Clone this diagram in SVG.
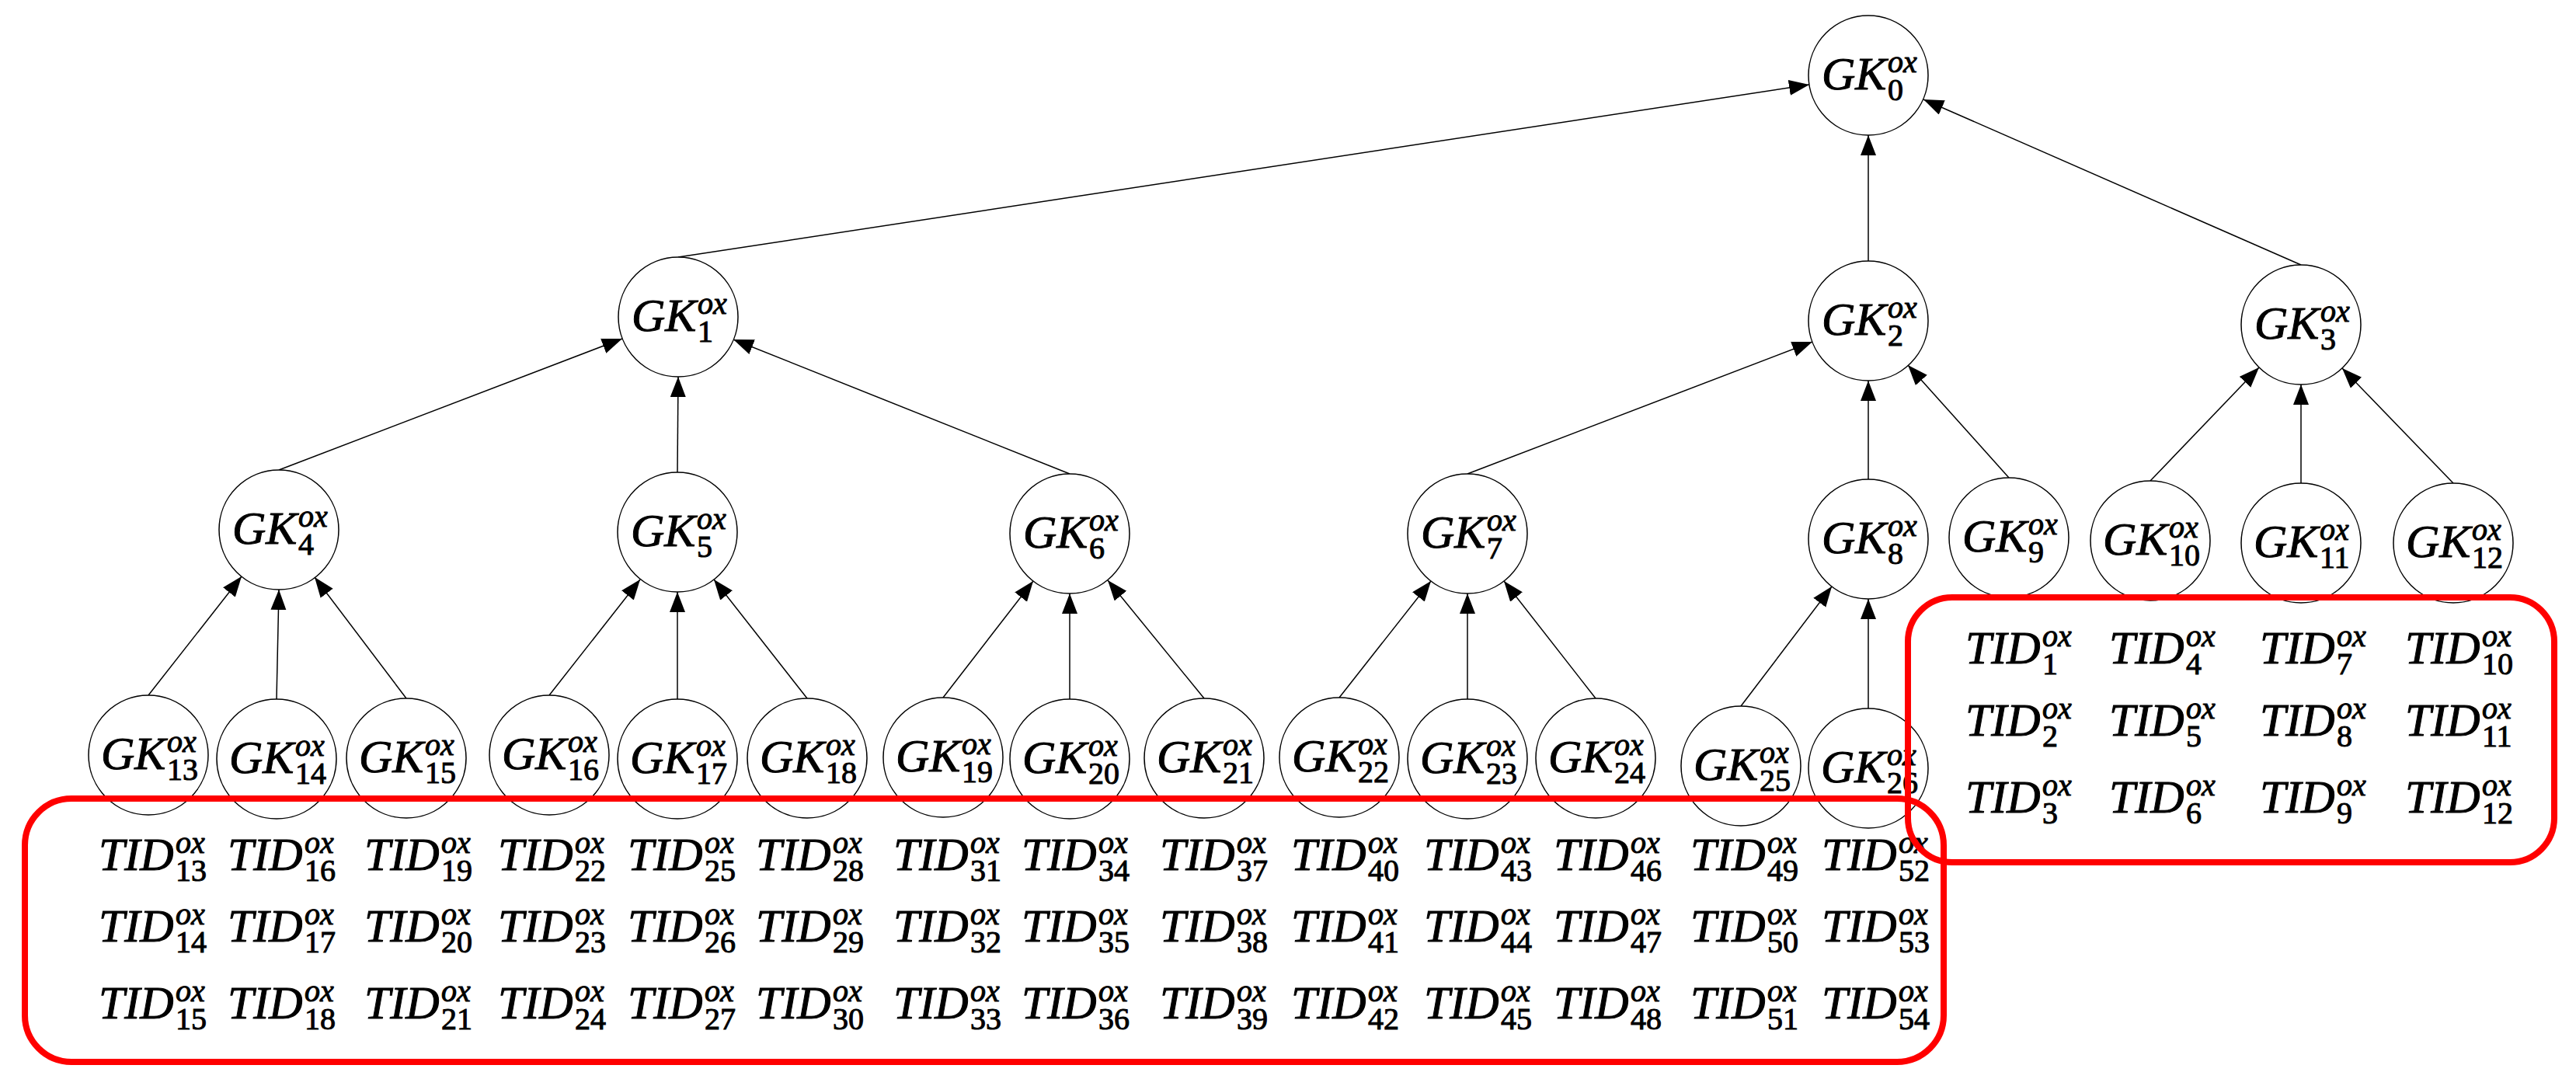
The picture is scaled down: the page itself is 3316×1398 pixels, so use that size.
<svg xmlns="http://www.w3.org/2000/svg" width="3316" height="1398" viewBox="0 0 3316 1398">
<style>
.n{fill:#fff;stroke:#000;stroke-width:1.5}
.e{stroke:#000;stroke-width:1.5;fill:none;marker-end:url(#a)}
.m{font-family:"Liberation Serif",serif;font-style:italic;font-size:60px;stroke:#000;stroke-width:1}
.s{font-style:italic;font-size:40px}
.d{font-style:normal;font-size:40px}
.b{fill:none;stroke:#f00;stroke-width:8}
</style>
<defs><marker id="a" markerUnits="userSpaceOnUse" markerWidth="30" markerHeight="24" refX="26" refY="10" orient="auto"><path d="M0,0 L26,10 L0,20 z" fill="#000"/></marker></defs>
<g id="edges">
<line class="e" x1="873" y1="331" x2="2329" y2="109"/>
<line class="e" x1="2405" y1="336" x2="2405" y2="174"/>
<line class="e" x1="2962" y1="341" x2="2476" y2="128"/>
<line class="e" x1="359" y1="605" x2="801" y2="436"/>
<line class="e" x1="872" y1="608" x2="873" y2="485"/>
<line class="e" x1="1377" y1="610" x2="944" y2="437"/>
<line class="e" x1="1889" y1="610" x2="2333" y2="440"/>
<line class="e" x1="2405" y1="617" x2="2405" y2="490"/>
<line class="e" x1="2586" y1="615" x2="2456" y2="470"/>
<line class="e" x1="2768" y1="619" x2="2908" y2="473"/>
<line class="e" x1="2962" y1="622" x2="2962" y2="495"/>
<line class="e" x1="3158" y1="622" x2="3015" y2="474"/>
<line class="e" x1="191" y1="895" x2="311" y2="742"/>
<line class="e" x1="356" y1="900" x2="359" y2="759"/>
<line class="e" x1="523" y1="899" x2="405" y2="743"/>
<line class="e" x1="707" y1="895" x2="824" y2="746"/>
<line class="e" x1="872" y1="900" x2="872" y2="762"/>
<line class="e" x1="1039" y1="899" x2="919" y2="746"/>
<line class="e" x1="1214" y1="898" x2="1330" y2="748"/>
<line class="e" x1="1377" y1="900" x2="1377" y2="764"/>
<line class="e" x1="1550" y1="899" x2="1426" y2="747"/>
<line class="e" x1="1724" y1="898" x2="1842" y2="748"/>
<line class="e" x1="1889" y1="900" x2="1889" y2="764"/>
<line class="e" x1="2054" y1="899" x2="1936" y2="748"/>
<line class="e" x1="2241" y1="909" x2="2358" y2="755"/>
<line class="e" x1="2405" y1="912" x2="2405" y2="771"/>
</g>
<g id="gk0"><circle class="n" cx="2405" cy="97" r="77"/><text class="m" x="2345" y="115">GK<tspan class="s" x="2430" y="93">ox</tspan><tspan class="d" x="2430" y="129">0</tspan></text></g>
<g id="gk1"><circle class="n" cx="873" cy="408" r="77"/><text class="m" x="813" y="426">GK<tspan class="s" x="898" y="404">ox</tspan><tspan class="d" x="898" y="440">1</tspan></text></g>
<g id="gk2"><circle class="n" cx="2405" cy="413" r="77"/><text class="m" x="2345" y="431">GK<tspan class="s" x="2430" y="409">ox</tspan><tspan class="d" x="2430" y="445">2</tspan></text></g>
<g id="gk3"><circle class="n" cx="2962" cy="418" r="77"/><text class="m" x="2902" y="436">GK<tspan class="s" x="2987" y="414">ox</tspan><tspan class="d" x="2987" y="450">3</tspan></text></g>
<g id="gk4"><circle class="n" cx="359" cy="682" r="77"/><text class="m" x="299" y="700">GK<tspan class="s" x="384" y="678">ox</tspan><tspan class="d" x="384" y="714">4</tspan></text></g>
<g id="gk5"><circle class="n" cx="872" cy="685" r="77"/><text class="m" x="812" y="703">GK<tspan class="s" x="897" y="681">ox</tspan><tspan class="d" x="897" y="717">5</tspan></text></g>
<g id="gk6"><circle class="n" cx="1377" cy="687" r="77"/><text class="m" x="1317" y="705">GK<tspan class="s" x="1402" y="683">ox</tspan><tspan class="d" x="1402" y="719">6</tspan></text></g>
<g id="gk7"><circle class="n" cx="1889" cy="687" r="77"/><text class="m" x="1829" y="705">GK<tspan class="s" x="1914" y="683">ox</tspan><tspan class="d" x="1914" y="719">7</tspan></text></g>
<g id="gk8"><circle class="n" cx="2405" cy="694" r="77"/><text class="m" x="2345" y="712">GK<tspan class="s" x="2430" y="690">ox</tspan><tspan class="d" x="2430" y="726">8</tspan></text></g>
<g id="gk9"><circle class="n" cx="2586" cy="692" r="77"/><text class="m" x="2526" y="710">GK<tspan class="s" x="2611" y="688">ox</tspan><tspan class="d" x="2611" y="724">9</tspan></text></g>
<g id="gk10"><circle class="n" cx="2768" cy="696" r="77"/><text class="m" x="2707" y="714">GK<tspan class="s" x="2792" y="692">ox</tspan><tspan class="d" x="2792" y="728">10</tspan></text></g>
<g id="gk11"><circle class="n" cx="2962" cy="699" r="77"/><text class="m" x="2901" y="717">GK<tspan class="s" x="2986" y="695">ox</tspan><tspan class="d" x="2986" y="731">11</tspan></text></g>
<g id="gk12"><circle class="n" cx="3158" cy="699" r="77"/><text class="m" x="3097" y="717">GK<tspan class="s" x="3182" y="695">ox</tspan><tspan class="d" x="3182" y="731">12</tspan></text></g>
<g id="gk13"><circle class="n" cx="191" cy="972" r="77"/><text class="m" x="130" y="990">GK<tspan class="s" x="215" y="968">ox</tspan><tspan class="d" x="215" y="1004">13</tspan></text></g>
<g id="gk14"><circle class="n" cx="356" cy="977" r="77"/><text class="m" x="295" y="995">GK<tspan class="s" x="380" y="973">ox</tspan><tspan class="d" x="380" y="1009">14</tspan></text></g>
<g id="gk15"><circle class="n" cx="523" cy="976" r="77"/><text class="m" x="462" y="994">GK<tspan class="s" x="547" y="972">ox</tspan><tspan class="d" x="547" y="1008">15</tspan></text></g>
<g id="gk16"><circle class="n" cx="707" cy="972" r="77"/><text class="m" x="646" y="990">GK<tspan class="s" x="731" y="968">ox</tspan><tspan class="d" x="731" y="1004">16</tspan></text></g>
<g id="gk17"><circle class="n" cx="872" cy="977" r="77"/><text class="m" x="811" y="995">GK<tspan class="s" x="896" y="973">ox</tspan><tspan class="d" x="896" y="1009">17</tspan></text></g>
<g id="gk18"><circle class="n" cx="1039" cy="976" r="77"/><text class="m" x="978" y="994">GK<tspan class="s" x="1063" y="972">ox</tspan><tspan class="d" x="1063" y="1008">18</tspan></text></g>
<g id="gk19"><circle class="n" cx="1214" cy="975" r="77"/><text class="m" x="1153" y="993">GK<tspan class="s" x="1238" y="971">ox</tspan><tspan class="d" x="1238" y="1007">19</tspan></text></g>
<g id="gk20"><circle class="n" cx="1377" cy="977" r="77"/><text class="m" x="1316" y="995">GK<tspan class="s" x="1401" y="973">ox</tspan><tspan class="d" x="1401" y="1009">20</tspan></text></g>
<g id="gk21"><circle class="n" cx="1550" cy="976" r="77"/><text class="m" x="1489" y="994">GK<tspan class="s" x="1574" y="972">ox</tspan><tspan class="d" x="1574" y="1008">21</tspan></text></g>
<g id="gk22"><circle class="n" cx="1724" cy="975" r="77"/><text class="m" x="1663" y="993">GK<tspan class="s" x="1748" y="971">ox</tspan><tspan class="d" x="1748" y="1007">22</tspan></text></g>
<g id="gk23"><circle class="n" cx="1889" cy="977" r="77"/><text class="m" x="1828" y="995">GK<tspan class="s" x="1913" y="973">ox</tspan><tspan class="d" x="1913" y="1009">23</tspan></text></g>
<g id="gk24"><circle class="n" cx="2054" cy="976" r="77"/><text class="m" x="1993" y="994">GK<tspan class="s" x="2078" y="972">ox</tspan><tspan class="d" x="2078" y="1008">24</tspan></text></g>
<g id="gk25"><circle class="n" cx="2241" cy="986" r="77"/><text class="m" x="2180" y="1004">GK<tspan class="s" x="2265" y="982">ox</tspan><tspan class="d" x="2265" y="1018">25</tspan></text></g>
<g id="gk26"><circle class="n" cx="2405" cy="989" r="77"/><text class="m" x="2344" y="1007">GK<tspan class="s" x="2429" y="985">ox</tspan><tspan class="d" x="2429" y="1021">26</tspan></text></g>
<g id="box-left">
<rect class="b" x="32" y="1028" width="2470" height="339" rx="60"/>
<text class="m" x="127" y="1120">TID<tspan class="s" x="226" y="1098">ox</tspan><tspan class="d" x="226" y="1134">13</tspan></text>
<text class="m" x="293" y="1120">TID<tspan class="s" x="392" y="1098">ox</tspan><tspan class="d" x="392" y="1134">16</tspan></text>
<text class="m" x="469" y="1120">TID<tspan class="s" x="568" y="1098">ox</tspan><tspan class="d" x="568" y="1134">19</tspan></text>
<text class="m" x="641" y="1120">TID<tspan class="s" x="740" y="1098">ox</tspan><tspan class="d" x="740" y="1134">22</tspan></text>
<text class="m" x="808" y="1120">TID<tspan class="s" x="907" y="1098">ox</tspan><tspan class="d" x="907" y="1134">25</tspan></text>
<text class="m" x="973" y="1120">TID<tspan class="s" x="1072" y="1098">ox</tspan><tspan class="d" x="1072" y="1134">28</tspan></text>
<text class="m" x="1150" y="1120">TID<tspan class="s" x="1249" y="1098">ox</tspan><tspan class="d" x="1249" y="1134">31</tspan></text>
<text class="m" x="1315" y="1120">TID<tspan class="s" x="1414" y="1098">ox</tspan><tspan class="d" x="1414" y="1134">34</tspan></text>
<text class="m" x="1493" y="1120">TID<tspan class="s" x="1592" y="1098">ox</tspan><tspan class="d" x="1592" y="1134">37</tspan></text>
<text class="m" x="1662" y="1120">TID<tspan class="s" x="1761" y="1098">ox</tspan><tspan class="d" x="1761" y="1134">40</tspan></text>
<text class="m" x="1833" y="1120">TID<tspan class="s" x="1932" y="1098">ox</tspan><tspan class="d" x="1932" y="1134">43</tspan></text>
<text class="m" x="2000" y="1120">TID<tspan class="s" x="2099" y="1098">ox</tspan><tspan class="d" x="2099" y="1134">46</tspan></text>
<text class="m" x="2176" y="1120">TID<tspan class="s" x="2275" y="1098">ox</tspan><tspan class="d" x="2275" y="1134">49</tspan></text>
<text class="m" x="2345" y="1120">TID<tspan class="s" x="2444" y="1098">ox</tspan><tspan class="d" x="2444" y="1134">52</tspan></text>
<text class="m" x="127" y="1212">TID<tspan class="s" x="226" y="1190">ox</tspan><tspan class="d" x="226" y="1226">14</tspan></text>
<text class="m" x="293" y="1212">TID<tspan class="s" x="392" y="1190">ox</tspan><tspan class="d" x="392" y="1226">17</tspan></text>
<text class="m" x="469" y="1212">TID<tspan class="s" x="568" y="1190">ox</tspan><tspan class="d" x="568" y="1226">20</tspan></text>
<text class="m" x="641" y="1212">TID<tspan class="s" x="740" y="1190">ox</tspan><tspan class="d" x="740" y="1226">23</tspan></text>
<text class="m" x="808" y="1212">TID<tspan class="s" x="907" y="1190">ox</tspan><tspan class="d" x="907" y="1226">26</tspan></text>
<text class="m" x="973" y="1212">TID<tspan class="s" x="1072" y="1190">ox</tspan><tspan class="d" x="1072" y="1226">29</tspan></text>
<text class="m" x="1150" y="1212">TID<tspan class="s" x="1249" y="1190">ox</tspan><tspan class="d" x="1249" y="1226">32</tspan></text>
<text class="m" x="1315" y="1212">TID<tspan class="s" x="1414" y="1190">ox</tspan><tspan class="d" x="1414" y="1226">35</tspan></text>
<text class="m" x="1493" y="1212">TID<tspan class="s" x="1592" y="1190">ox</tspan><tspan class="d" x="1592" y="1226">38</tspan></text>
<text class="m" x="1662" y="1212">TID<tspan class="s" x="1761" y="1190">ox</tspan><tspan class="d" x="1761" y="1226">41</tspan></text>
<text class="m" x="1833" y="1212">TID<tspan class="s" x="1932" y="1190">ox</tspan><tspan class="d" x="1932" y="1226">44</tspan></text>
<text class="m" x="2000" y="1212">TID<tspan class="s" x="2099" y="1190">ox</tspan><tspan class="d" x="2099" y="1226">47</tspan></text>
<text class="m" x="2176" y="1212">TID<tspan class="s" x="2275" y="1190">ox</tspan><tspan class="d" x="2275" y="1226">50</tspan></text>
<text class="m" x="2345" y="1212">TID<tspan class="s" x="2444" y="1190">ox</tspan><tspan class="d" x="2444" y="1226">53</tspan></text>
<text class="m" x="127" y="1311">TID<tspan class="s" x="226" y="1289">ox</tspan><tspan class="d" x="226" y="1325">15</tspan></text>
<text class="m" x="293" y="1311">TID<tspan class="s" x="392" y="1289">ox</tspan><tspan class="d" x="392" y="1325">18</tspan></text>
<text class="m" x="469" y="1311">TID<tspan class="s" x="568" y="1289">ox</tspan><tspan class="d" x="568" y="1325">21</tspan></text>
<text class="m" x="641" y="1311">TID<tspan class="s" x="740" y="1289">ox</tspan><tspan class="d" x="740" y="1325">24</tspan></text>
<text class="m" x="808" y="1311">TID<tspan class="s" x="907" y="1289">ox</tspan><tspan class="d" x="907" y="1325">27</tspan></text>
<text class="m" x="973" y="1311">TID<tspan class="s" x="1072" y="1289">ox</tspan><tspan class="d" x="1072" y="1325">30</tspan></text>
<text class="m" x="1150" y="1311">TID<tspan class="s" x="1249" y="1289">ox</tspan><tspan class="d" x="1249" y="1325">33</tspan></text>
<text class="m" x="1315" y="1311">TID<tspan class="s" x="1414" y="1289">ox</tspan><tspan class="d" x="1414" y="1325">36</tspan></text>
<text class="m" x="1493" y="1311">TID<tspan class="s" x="1592" y="1289">ox</tspan><tspan class="d" x="1592" y="1325">39</tspan></text>
<text class="m" x="1662" y="1311">TID<tspan class="s" x="1761" y="1289">ox</tspan><tspan class="d" x="1761" y="1325">42</tspan></text>
<text class="m" x="1833" y="1311">TID<tspan class="s" x="1932" y="1289">ox</tspan><tspan class="d" x="1932" y="1325">45</tspan></text>
<text class="m" x="2000" y="1311">TID<tspan class="s" x="2099" y="1289">ox</tspan><tspan class="d" x="2099" y="1325">48</tspan></text>
<text class="m" x="2176" y="1311">TID<tspan class="s" x="2275" y="1289">ox</tspan><tspan class="d" x="2275" y="1325">51</tspan></text>
<text class="m" x="2345" y="1311">TID<tspan class="s" x="2444" y="1289">ox</tspan><tspan class="d" x="2444" y="1325">54</tspan></text>
</g>
<g id="box-right">
<rect class="b" x="2456" y="769" width="832" height="341" rx="57"/>
<text class="m" x="2530" y="854">TID<tspan class="s" x="2629" y="832">ox</tspan><tspan class="d" x="2629" y="868">1</tspan></text>
<text class="m" x="2715" y="854">TID<tspan class="s" x="2814" y="832">ox</tspan><tspan class="d" x="2814" y="868">4</tspan></text>
<text class="m" x="2909" y="854">TID<tspan class="s" x="3008" y="832">ox</tspan><tspan class="d" x="3008" y="868">7</tspan></text>
<text class="m" x="3096" y="854">TID<tspan class="s" x="3195" y="832">ox</tspan><tspan class="d" x="3195" y="868">10</tspan></text>
<text class="m" x="2530" y="947">TID<tspan class="s" x="2629" y="925">ox</tspan><tspan class="d" x="2629" y="961">2</tspan></text>
<text class="m" x="2715" y="947">TID<tspan class="s" x="2814" y="925">ox</tspan><tspan class="d" x="2814" y="961">5</tspan></text>
<text class="m" x="2909" y="947">TID<tspan class="s" x="3008" y="925">ox</tspan><tspan class="d" x="3008" y="961">8</tspan></text>
<text class="m" x="3096" y="947">TID<tspan class="s" x="3195" y="925">ox</tspan><tspan class="d" x="3195" y="961">11</tspan></text>
<text class="m" x="2530" y="1046">TID<tspan class="s" x="2629" y="1024">ox</tspan><tspan class="d" x="2629" y="1060">3</tspan></text>
<text class="m" x="2715" y="1046">TID<tspan class="s" x="2814" y="1024">ox</tspan><tspan class="d" x="2814" y="1060">6</tspan></text>
<text class="m" x="2909" y="1046">TID<tspan class="s" x="3008" y="1024">ox</tspan><tspan class="d" x="3008" y="1060">9</tspan></text>
<text class="m" x="3096" y="1046">TID<tspan class="s" x="3195" y="1024">ox</tspan><tspan class="d" x="3195" y="1060">12</tspan></text>
</g>
</svg>
